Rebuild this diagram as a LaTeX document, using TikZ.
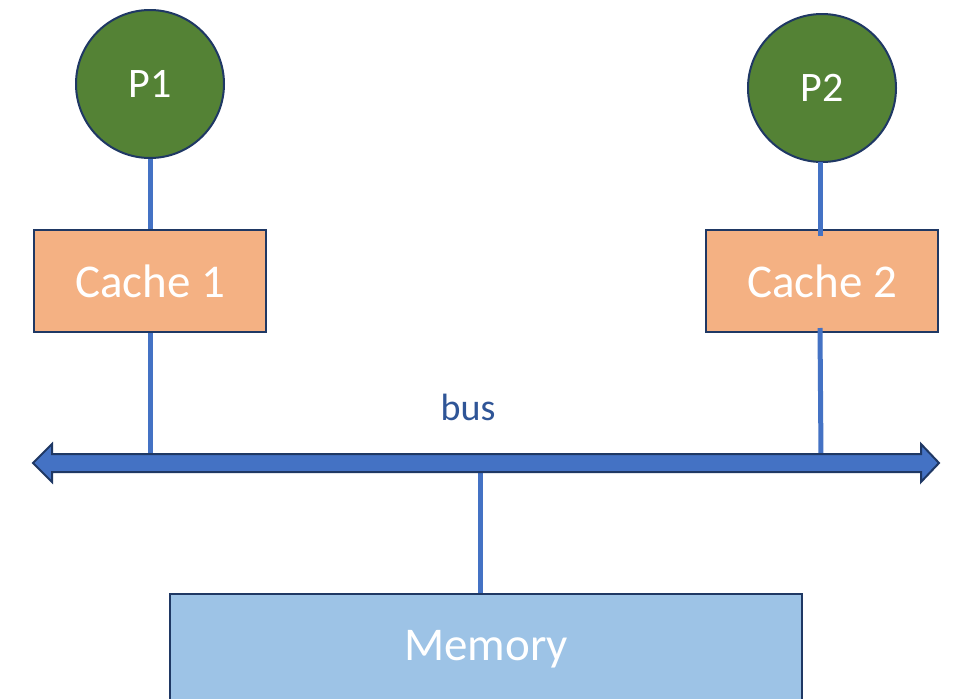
\documentclass[tikz,border=0pt]{standalone}
\usepackage{fontspec}
\setmainfont{Carlito}
\definecolor{procgreen}{HTML}{548235}
\definecolor{outline}{HTML}{1F3864}
\definecolor{cacheorange}{HTML}{F4B183}
\definecolor{memblue}{HTML}{9DC3E6}
\definecolor{wireblue}{HTML}{4472C4}
\definecolor{labelblue}{HTML}{2F5597}
\tikzset{
  proc/.style={circle, fill=procgreen, draw=outline, line width=2pt,
    minimum size=148pt, inner sep=0pt, text=white, font=\fontsize{42}{48}\selectfont},
  cachebox/.style={rectangle, fill=cacheorange, draw=outline, line width=2pt,
    minimum width=232pt, minimum height=102pt, inner sep=0pt, text=white,
    font=\fontsize{47}{52}\selectfont},
  membox/.style={rectangle, fill=memblue, draw=outline, line width=2pt,
    minimum width=632pt, minimum height=110pt, inner sep=0pt, text=white,
    font=\fontsize{47}{52}\selectfont},
  wire/.style={draw=wireblue, line width=5pt},
  busarrow/.style={fill=wireblue, draw=outline, line width=2pt, line join=miter},
}
\begin{document}
\begin{tikzpicture}[x=1pt, y=-1pt]
  \clip (0,0) rectangle (954,699);
  \fill[white] (0,0) rectangle (954,699);

  % processors and their caches
  \node[proc] (p1) at (150,84) {P1};
  \node[proc] (p2) at (822,88) {P2};
  \node[cachebox] (c1) at (150,281) {Cache 1};
  \node[cachebox] (c2) at (822,281) {Cache 2};
  \node[membox] (mem) at (486,649) {Memory};

  % taps on the bus
  \coordinate (tap1) at (150,456);
  \coordinate (tap2) at (821,456);
  \coordinate (tapm) at (480,470);

  % wires
  \draw[wire] (p1.south) -- (c1.north);
  \draw[wire] (820,162) -- (820,236);
  \draw[wire] (c1.south) -- (tap1);
  \draw[wire] (820,328) -- (tap2);
  \draw[wire] (tapm) -- (mem.north -| tapm);

  % the bus: a double-headed block arrow
  \draw[busarrow] (33,463) -- (52,444) -- (52,454) -- (921,454) -- (921,444)
    -- (939,463) -- (921,482) -- (921,472) -- (52,472) -- (52,482) -- cycle;
  \node[text=labelblue, font=\fontsize{38}{44}\selectfont] (buslabel) at (468,407) {bus};
\end{tikzpicture}
\end{document}
